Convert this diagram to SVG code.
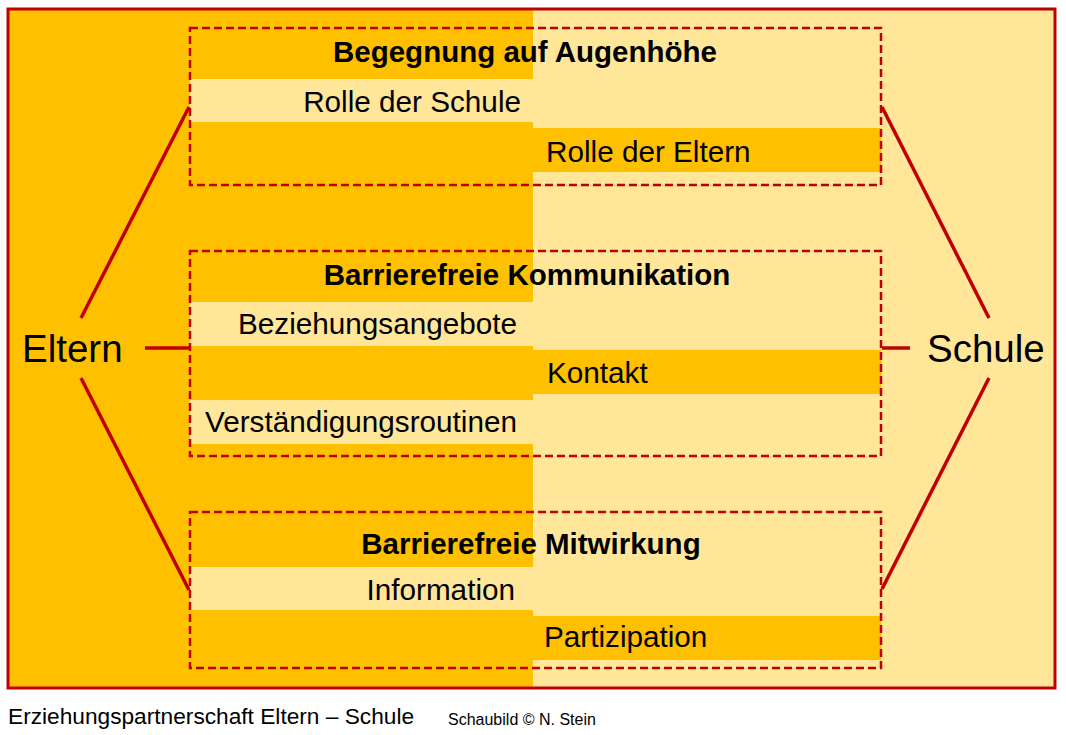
<svg xmlns="http://www.w3.org/2000/svg" width="1066" height="735" viewBox="0 0 1066 735">
<style>
.gold{fill:#FFC000}
.light{fill:#FFE699}
.box{fill:none;stroke:#C00000;stroke-width:2.5;stroke-dasharray:8 4}
.conn{stroke:#C00000;stroke-width:3.5;fill:none}
.t{font-family:"Liberation Sans",Arial,sans-serif;fill:#000}
.title{font-size:29.5px;font-weight:bold;text-anchor:middle}
.sub{font-size:29.7px}
.end{text-anchor:end}
.big{font-size:38.5px}
</style>
<rect x="0" y="0" width="1066" height="735" fill="#FFFFFF"/>
<g id="background">
<rect class="gold" x="8" y="9" width="525" height="679"/>
<rect class="light" x="533" y="9" width="522" height="679"/>
</g>
<g id="box1">
<rect class="light" x="190" y="79" width="343" height="43"/>
<rect class="gold" x="533" y="128" width="348" height="44"/>
<rect class="box" x="190" y="28" width="691" height="157"/>
<text class="t title" x="525" y="62">Begegnung auf Augenhöhe</text>
<text class="t sub end" x="521" y="112">Rolle der Schule</text>
<text class="t sub" x="546" y="162">Rolle der Eltern</text>
</g>
<g id="box2">
<rect class="light" x="190" y="302" width="343" height="44"/>
<rect class="light" x="190" y="400" width="343" height="44"/>
<rect class="gold" x="533" y="350" width="348" height="44"/>
<rect class="box" x="190" y="251" width="691" height="205"/>
<text class="t title" x="527" y="285">Barrierefreie Kommunikation</text>
<text class="t sub end" x="517" y="334">Beziehungsangebote</text>
<text class="t sub" x="547" y="383">Kontakt</text>
<text class="t sub end" x="517" y="432">Verständigungsroutinen</text>
</g>
<g id="box3">
<rect class="light" x="190" y="567" width="343" height="43"/>
<rect class="gold" x="533" y="616" width="348" height="44"/>
<rect class="box" x="190" y="512" width="691" height="156"/>
<text class="t title" x="531" y="554">Barrierefreie Mitwirkung</text>
<text class="t sub end" x="515" y="600">Information</text>
<text class="t sub" x="544" y="647">Partizipation</text>
</g>
<g id="eltern">
<text class="t big" x="22" y="362">Eltern</text>
</g>
<g id="schule">
<text class="t big" x="927" y="362">Schule</text>
</g>
<g id="connectors">
<line class="conn" x1="81" y1="318" x2="189" y2="107"/>
<line class="conn" x1="145" y1="348" x2="189" y2="348"/>
<line class="conn" x1="81" y1="378" x2="189" y2="590"/>
<line class="conn" x1="989" y1="318" x2="882" y2="107"/>
<line class="conn" x1="882" y1="348" x2="910" y2="348"/>
<line class="conn" x1="989" y1="378" x2="882" y2="589"/>
</g>
<rect id="frame" x="8" y="9" width="1047" height="679" fill="none" stroke="#C00000" stroke-width="3"/>
<g id="caption">
<text class="t" x="8" y="724" font-size="22.7">Erziehungspartnerschaft Eltern – Schule</text>
<text class="t" x="448" y="725" font-size="16">Schaubild © N. Stein</text>
</g>
</svg>
